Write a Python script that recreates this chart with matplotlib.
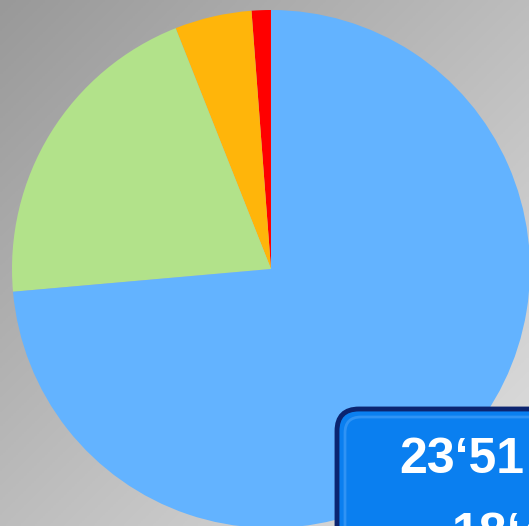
import numpy as np
import matplotlib.pyplot as plt
from matplotlib.patches import FancyBboxPatch

# parts of the pie, counterclockwise from the top
labels = ['rouge', 'orange', 'vert', 'bleu']
values = [1.2, 4.8, 20.4, 73.6]
colors = ['#ff0000', '#ffb50a', '#b2e28a', '#63b3ff']

# text in the box
line1 = '23‘51'
line2 = '18‘47'

W, H = 529, 526
fig = plt.figure(figsize=(W / 100, H / 100), dpi=100)

# grey gradient background
bg = fig.add_axes([0, 0, 1, 1])
xx, yy = np.meshgrid(np.linspace(0, 1, 200), np.linspace(0, 1, 200))
g = 0.60 + 0.28 * (xx + yy) / 2
bg.imshow(np.dstack([g, g, g]), extent=[0, 1, 0, 1], aspect='auto', origin='upper')
bg.axis('off')

# pie: centre (271, 269) px, radius 259 px
cx, cy, r = 271, H - 269, 259
ax = fig.add_axes([0, 0, 1, 1])
ax.pie(values, colors=colors, startangle=90, counterclock=True, radius=1,
       wedgeprops={'linewidth': 0})
ax.set_xlim(-cx / r, (W - cx) / r)
ax.set_ylim(-cy / r, (H - cy) / r)
ax.set_aspect('auto')
ax.axis('off')

# blue box at the bottom right, in pixel coords
ov = fig.add_axes([0, 0, 1, 1])
ov.set_xlim(0, W)
ov.set_ylim(H, 0)
ov.axis('off')
ov.add_patch(FancyBboxPatch((337, 409), 260, 200, boxstyle='round,pad=0,rounding_size=22',
                            fc='#0a7ff0', ec='#0b2470', lw=3.5))
ov.add_patch(FancyBboxPatch((345, 417), 250, 190, boxstyle='round,pad=0,rounding_size=16',
                            fc='#0a7ff0', ec='#2f93f5', lw=2))
ov.text(399, 473, line1, color='white', fontsize=36, fontweight='bold',
        family='Liberation Sans', va='baseline', ha='left')
ov.text(452, 548, line2, color='white', fontsize=36, fontweight='bold',
        family='Liberation Sans', va='baseline', ha='left')

fig.savefig('out.png', dpi=100)
